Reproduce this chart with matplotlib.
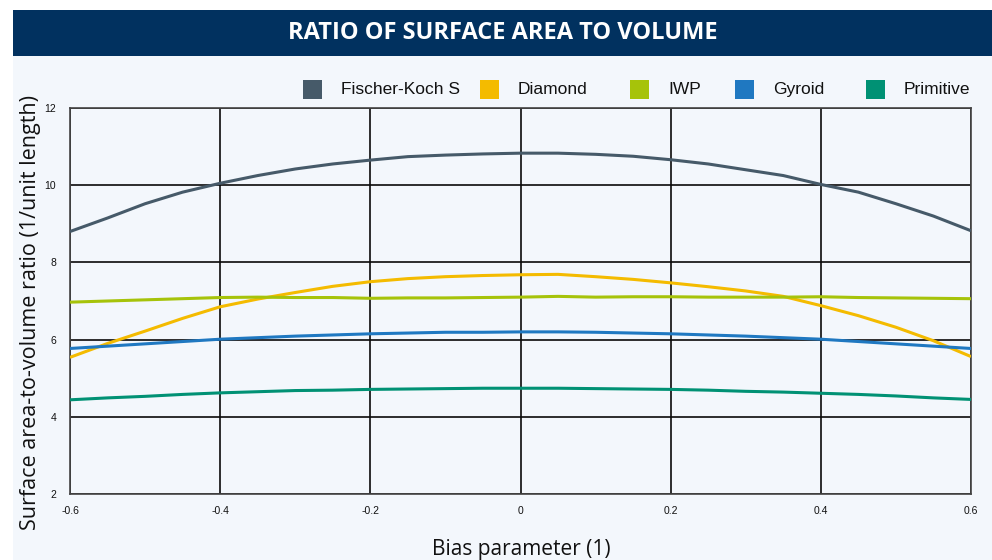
import numpy as np
import matplotlib
matplotlib.use("Agg")
import matplotlib.pyplot as plt
from matplotlib.patches import Rectangle

# Bias parameter sampled in steps of 0.05
bias = np.round(np.arange(-0.6, 0.6001, 0.05), 2)

fischer_koch_s = [8.80, 9.15, 9.52, 9.82, 10.05, 10.25, 10.42, 10.55, 10.65, 10.74,
                  10.78, 10.81, 10.83, 10.83, 10.80, 10.75, 10.66, 10.55, 10.40,
                  10.25, 10.02, 9.82, 9.52, 9.20, 8.82]
diamond = [5.54, 5.90, 6.22, 6.55, 6.85, 7.05, 7.22, 7.38, 7.50, 7.58, 7.63, 7.66,
           7.68, 7.69, 7.63, 7.56, 7.47, 7.37, 7.26, 7.12, 6.88, 6.62, 6.32, 5.97, 5.56]
iwp = [6.97, 7.00, 7.03, 7.06, 7.09, 7.10, 7.09, 7.09, 7.07, 7.08, 7.08, 7.09, 7.10,
       7.12, 7.10, 7.11, 7.11, 7.10, 7.10, 7.10, 7.11, 7.09, 7.08, 7.07, 7.06]
gyroid = [5.77, 5.83, 5.89, 5.95, 6.01, 6.05, 6.09, 6.12, 6.15, 6.17, 6.19, 6.19,
          6.20, 6.20, 6.19, 6.17, 6.15, 6.12, 6.09, 6.05, 6.01, 5.95, 5.89, 5.83, 5.77]
primitive = [4.44, 4.49, 4.53, 4.58, 4.62, 4.65, 4.68, 4.69, 4.71, 4.72, 4.73, 4.74,
             4.74, 4.74, 4.73, 4.72, 4.71, 4.69, 4.66, 4.64, 4.61, 4.58, 4.54, 4.49, 4.45]

series_names = ["Fischer-Koch S", "Diamond", "IWP", "Gyroid", "Primitive"]
series_values = [fischer_koch_s, diamond, iwp, gyroid, primitive]
series_colors = ["#465a69", "#f4bb00", "#a6c30a", "#1f78c1", "#009174"]

x_ticks = [-0.6, -0.4, -0.2, 0, 0.2, 0.4, 0.6]
x_tick_labels = ["-0.6", "-0.4", "-0.2", "0", "0.2", "0.4", "0.6"]
y_ticks = [2, 4, 6, 8, 10, 12]

W, H = 992, 560
fig = plt.figure(figsize=(W / 100, H / 100), dpi=100)
fig.patch.set_facecolor("white")

def fx(px):
    return px / W

def fy(py):
    return 1 - py / H

# panel background and header bar
fig.patches.append(Rectangle((fx(13), 0), 1 - fx(13), fy(56), transform=fig.transFigure,
                             facecolor="#f3f7fc", edgecolor="none", zorder=-5))
fig.patches.append(Rectangle((fx(13), fy(56)), 1 - fx(13), fy(10) - fy(56),
                             transform=fig.transFigure, facecolor="#01315f",
                             edgecolor="none", zorder=-5))
fig.text(fx(503), fy(33), "RATIO OF SURFACE AREA TO VOLUME", color="white",
         fontsize=17, fontweight="bold", family="Open Sans",
         ha="center", va="center")

ax = fig.add_axes([fx(70), fy(494), fx(971) - fx(70), fy(108) - fy(494)])
ax.set_zorder(3)
ax.set_facecolor("#f3f7fc")
for name, vals, col in zip(series_names, series_values, series_colors):
    ax.plot(bias, vals, color=col, lw=2.2, solid_capstyle="butt", zorder=3)

ax.set_xlim(-0.6, 0.6)
ax.set_ylim(2, 12)
ax.set_xticks(x_ticks)
ax.set_xticklabels(x_tick_labels)
ax.set_yticks(y_ticks)
ax.grid(True, color="#0a0a0a", lw=1.2, zorder=1)
ax.set_axisbelow(True)
for s in ax.spines.values():
    s.set_color("#444444")
    s.set_linewidth(1.2)
ax.tick_params(length=0, labelsize=7.5, colors="#111111")
ax.tick_params(axis="x", pad=9)
ax.tick_params(axis="y", pad=10)
for lab in ax.get_xticklabels() + ax.get_yticklabels():
    lab.set_family("Liberation Sans")

fig.text(fx(521), fy(549), "Bias parameter (1)", fontsize=15, family="Open Sans",
         ha="center", va="center", color="#111111")
fig.text(fx(31), fy(313), "Surface area-to-volume ratio (1/unit length)", fontsize=15.5,
         family="Open Sans", rotation=90, ha="center", va="center", color="#111111")

# legend row
legend_x = [303, 480, 630, 735, 866]
for name, col, lx in zip(series_names, series_colors, legend_x):
    fig.patches.append(Rectangle((fx(lx), fy(99)), fx(19), fy(80) - fy(99),
                                 transform=fig.transFigure, facecolor=col,
                                 edgecolor="none", zorder=2))
    fig.text(fx(lx + 38), fy(89.5), name, fontsize=12.5, family="Liberation Sans",
             ha="left", va="center", color="#111111")

fig.savefig("out.png", dpi=100)
